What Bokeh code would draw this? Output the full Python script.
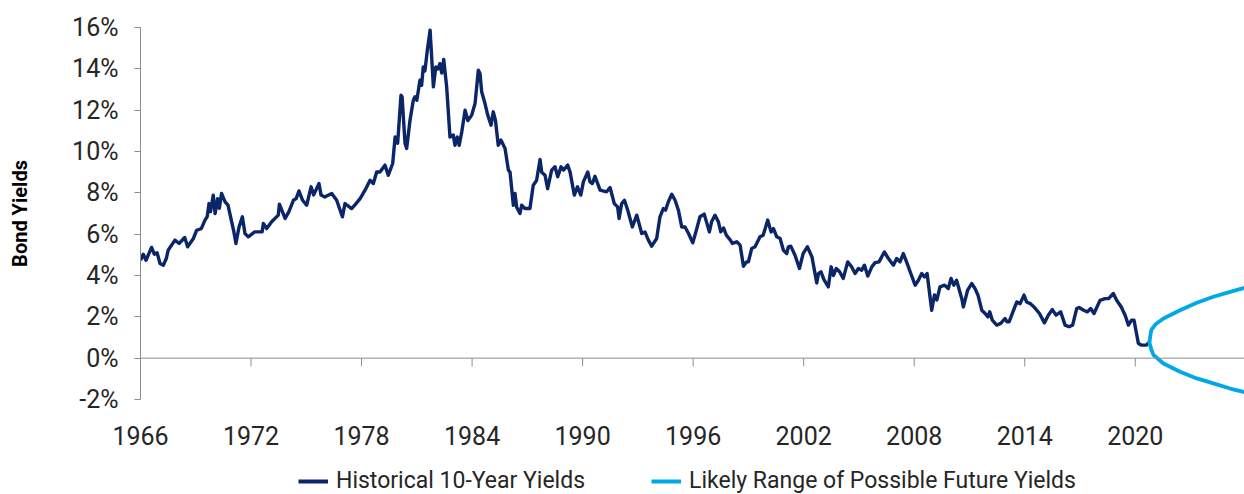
from bokeh.plotting import figure
from bokeh.layouts import column
from bokeh.models import FixedTicker, Span, Legend, LegendItem, Range1d
from bokeh.embed import file_html
from bokeh.resources import INLINE

# ---- data ----
hist_year = [
    1966.00, 1966.15, 1966.30, 1966.60, 1966.75, 1966.90, 1967.06, 1967.24, 1967.40, 1967.50,
    1967.87, 1968.10, 1968.40, 1968.56, 1968.87, 1969.05, 1969.30, 1969.50, 1969.62, 1969.72,
    1969.80, 1969.95, 1970.05, 1970.19, 1970.28, 1970.40, 1970.59, 1970.75, 1970.95, 1971.05,
    1971.18, 1971.35, 1971.53, 1971.67, 1971.85, 1972.20, 1972.60, 1972.67, 1972.85, 1973.12,
    1973.48, 1973.54, 1973.85, 1974.05, 1974.30, 1974.45, 1974.60, 1974.80, 1975.02, 1975.26,
    1975.40, 1975.69, 1975.80, 1976.00, 1976.38, 1976.65, 1976.96, 1977.10, 1977.46, 1977.70,
    1977.92, 1978.19, 1978.46, 1978.64, 1978.82, 1979.00, 1979.27, 1979.45, 1979.69, 1979.82,
    1979.96, 1980.14, 1980.20, 1980.36, 1980.45, 1980.63, 1980.81, 1980.90, 1981.00, 1981.17,
    1981.26, 1981.35, 1981.44, 1981.57, 1981.72, 1981.90, 1982.03, 1982.15, 1982.25, 1982.35,
    1982.46, 1982.62, 1982.80, 1982.98, 1983.07, 1983.20, 1983.30, 1983.44, 1983.62, 1983.77,
    1983.98, 1984.16, 1984.34, 1984.43, 1984.52, 1984.70, 1984.85, 1985.03, 1985.15, 1985.27,
    1985.42, 1985.57, 1985.79, 1985.97, 1986.06, 1986.24, 1986.33, 1986.42, 1986.60, 1986.69,
    1986.87, 1987.14, 1987.32, 1987.50, 1987.69, 1987.78, 1987.96, 1988.10, 1988.32, 1988.50,
    1988.65, 1988.83, 1988.96, 1989.19, 1989.32, 1989.55, 1989.72, 1989.90, 1990.04, 1990.28,
    1990.40, 1990.53, 1990.67, 1990.95, 1991.30, 1991.49, 1991.72, 1991.90, 1991.98, 1992.12,
    1992.27, 1992.45, 1992.70, 1992.94, 1993.21, 1993.39, 1993.57, 1993.75, 1994.02, 1994.20,
    1994.38, 1994.50, 1994.65, 1994.84, 1995.02, 1995.20, 1995.38, 1995.56, 1995.75, 1995.98,
    1996.20, 1996.37, 1996.60, 1996.88, 1997.00, 1997.19, 1997.37, 1997.50, 1997.65, 1997.80,
    1998.00, 1998.13, 1998.37, 1998.55, 1998.73, 1998.90, 1999.00, 1999.18, 1999.36, 1999.63,
    1999.80, 2000.05, 2000.23, 2000.36, 2000.54, 2000.72, 2000.90, 2001.08, 2001.17, 2001.30,
    2001.53, 2001.77, 2001.97, 2002.20, 2002.45, 2002.71, 2002.80, 2002.94, 2003.10, 2003.34,
    2003.49, 2003.62, 2003.77, 2003.95, 2004.15, 2004.39, 2004.60, 2004.79, 2004.97, 2005.15,
    2005.30, 2005.48, 2005.70, 2005.88, 2006.09, 2006.38, 2006.60, 2006.87, 2007.05, 2007.23,
    2007.41, 2007.60, 2007.78, 2008.05, 2008.23, 2008.41, 2008.56, 2008.70, 2008.95, 2009.10,
    2009.23, 2009.40, 2009.65, 2009.85, 2010.00, 2010.15, 2010.30, 2010.58, 2010.67, 2010.90,
    2011.12, 2011.30, 2011.46, 2011.67, 2011.85, 2012.00, 2012.10, 2012.24, 2012.48, 2012.70,
    2012.93, 2013.04, 2013.15, 2013.57, 2013.75, 2013.96, 2014.10, 2014.30, 2014.50, 2014.80,
    2015.07, 2015.28, 2015.50, 2015.70, 2015.95, 2016.19, 2016.40, 2016.60, 2016.82, 2016.95,
    2017.20, 2017.40, 2017.58, 2017.76, 2018.09, 2018.36, 2018.55, 2018.81, 2018.99, 2019.24,
    2019.45, 2019.63, 2019.80, 2019.93, 2020.17, 2020.35, 2020.60, 2020.76,
]
hist_yield = [
    4.74, 5.03, 4.74, 5.36, 5.03, 5.10, 4.58, 4.50, 4.82, 5.22,
    5.71, 5.55, 5.84, 5.39, 5.79, 6.19, 6.27, 6.68, 6.84, 7.48,
    7.09, 7.89, 7.00, 7.72, 7.25, 7.97, 7.56, 7.40, 6.60, 6.20,
    5.55, 6.35, 6.84, 6.03, 5.87, 6.11, 6.11, 6.52, 6.27, 6.60,
    6.92, 7.45, 6.76, 7.08, 7.64, 7.72, 8.09, 7.64, 7.40, 8.29,
    7.90, 8.45, 7.89, 7.80, 7.97, 7.64, 6.84, 7.48, 7.24, 7.48,
    7.72, 8.13, 8.61, 8.45, 9.01, 9.01, 9.34, 8.85, 9.42, 10.70,
    10.40, 12.72, 12.65, 10.39, 10.15, 11.51, 12.48, 12.65, 12.48, 13.45,
    13.20, 14.09, 13.90, 14.90, 15.87, 13.13, 14.09, 14.00, 14.25, 13.80,
    14.45, 13.13, 10.70, 10.80, 10.30, 10.70, 10.30, 10.95, 12.00, 11.50,
    11.76, 12.32, 13.93, 13.77, 12.89, 12.32, 11.76, 11.27, 11.92, 11.50,
    10.30, 10.55, 10.15, 9.10, 9.00, 7.40, 7.97, 7.30, 7.00, 7.40,
    7.24, 7.24, 8.37, 8.60, 9.61, 9.00, 8.85, 8.20, 9.10, 9.26,
    8.78, 9.26, 9.10, 9.34, 9.00, 7.89, 8.29, 7.89, 8.53, 9.01,
    8.53, 8.45, 8.80, 8.13, 8.05, 8.26, 7.48, 7.32, 6.76, 7.48,
    7.64, 7.16, 6.35, 6.92, 6.03, 6.10, 5.71, 5.42, 5.79, 6.84,
    7.24, 7.16, 7.56, 7.93, 7.64, 7.16, 6.35, 6.35, 6.03, 5.58,
    6.27, 6.84, 6.97, 6.11, 6.60, 6.92, 6.60, 6.11, 6.30, 5.95,
    5.74, 5.55, 5.63, 5.47, 4.45, 4.66, 4.66, 5.31, 5.39, 5.87,
    5.95, 6.68, 6.11, 6.27, 5.87, 5.79, 5.22, 5.06, 5.39, 5.42,
    4.98, 4.34, 5.06, 5.39, 4.90, 3.64, 4.09, 4.18, 3.80, 3.45,
    4.42, 4.00, 4.34, 4.18, 3.86, 4.66, 4.42, 4.10, 4.34, 4.26,
    4.50, 3.97, 4.42, 4.62, 4.66, 5.14, 4.82, 4.50, 4.82, 4.66,
    5.06, 4.62, 4.18, 3.53, 3.77, 4.10, 3.93, 4.10, 2.32, 3.06,
    2.82, 3.45, 3.53, 3.37, 3.86, 3.53, 3.77, 2.89, 2.48, 3.29,
    3.61, 3.37, 3.06, 2.32, 2.16, 2.00, 2.24, 1.84, 1.60, 1.68,
    1.92, 1.76, 1.76, 2.72, 2.64, 3.05, 2.72, 2.64, 2.48, 2.16,
    1.71, 2.08, 2.35, 2.08, 2.24, 1.60, 1.52, 1.60, 2.40, 2.45,
    2.32, 2.24, 2.40, 2.16, 2.80, 2.88, 2.88, 3.13, 2.80, 2.48,
    2.08, 1.60, 1.84, 1.84, 0.71, 0.63, 0.63, 0.78,
]

future_year = [2025.87, 2025.15, 2024.24, 2023.34, 2022.43, 2021.53, 2020.99, 2020.88, 2020.77,
               2020.82, 2020.88, 2021.10, 2021.53, 2022.43, 2023.34, 2024.24, 2025.15, 2025.87]
future_yield = [-1.63, -1.47, -1.22, -0.98, -0.66, -0.26, 0.15, 0.40, 0.75,
                1.10, 1.38, 1.64, 1.92, 2.32, 2.68, 2.97, 3.21, 3.39]

x_ticks = [1966, 1972, 1978, 1984, 1990, 1996, 2002, 2008, 2014, 2020]
y_ticks = [-2, 0, 2, 4, 6, 8, 10, 12, 14, 16]
y_tick_labels = ["-2%", "0%", "2%", "4%", "6%", "8%", "10%", "12%", "14%", "16%"]

series_names = ["Historical 10-Year Yields", "Likely Range of Possible Future Yields"]
y_title = "Bond Yields"

# ---- styles ----
NAVY = "#0b2569"
SKY = "#00a8e6"
AXIS_GRAY = "#8c8c8c"
TEXT = "#262626"
FONT = "Roboto"

x_range = Range1d(1966, 2025.93)
p = figure(width=1244, height=451, output_backend="svg", toolbar_location=None,
           x_range=x_range, y_range=Range1d(-2, 16),
           min_border_left=140, min_border_right=0, min_border_top=27, min_border_bottom=52)
p.outline_line_color = None
p.xgrid.grid_line_color = None
p.ygrid.grid_line_color = None
p.background_fill_color = "white"
p.border_fill_color = "white"

# y axis
p.yaxis.ticker = FixedTicker(ticks=y_ticks)
p.yaxis.major_label_overrides = {t: lbl for t, lbl in zip(y_ticks, y_tick_labels)}
p.yaxis.axis_line_color = AXIS_GRAY
p.yaxis.major_tick_line_color = AXIS_GRAY
p.yaxis.major_tick_out = 6
p.yaxis.major_tick_in = 0
p.yaxis.minor_tick_line_color = None
p.yaxis.major_label_standoff = 16
p.yaxis.major_label_text_font = FONT
p.yaxis.major_label_text_font_size = "25px"
p.yaxis.major_label_text_color = TEXT
p.yaxis.axis_label = y_title
p.yaxis.axis_label_text_font = FONT
p.yaxis.axis_label_text_font_style = "bold"
p.yaxis.axis_label_text_font_size = "20px"
p.yaxis.axis_label_text_color = "#000000"
p.yaxis.axis_label_standoff = 37

# x axis: labels at bottom, axis line drawn at 0
p.xaxis.ticker = FixedTicker(ticks=x_ticks)
p.xaxis.axis_line_color = None
p.xaxis.major_tick_line_color = None
p.xaxis.minor_tick_line_color = None
p.xaxis.major_label_standoff = 20
p.xaxis.major_label_text_font = FONT
p.xaxis.major_label_text_font_size = "25px"
p.xaxis.major_label_text_color = TEXT

p.add_layout(Span(location=0, dimension="width", line_color=AXIS_GRAY, line_width=1))
tick_len = 0.4
p.segment(x0=x_ticks, y0=[0] * len(x_ticks), x1=x_ticks, y1=[-tick_len] * len(x_ticks),
          line_color=AXIS_GRAY, line_width=1)

p.line(hist_year, hist_yield, line_color=NAVY, line_width=3.4, line_join="round")
p.line(future_year, future_yield, line_color=SKY, line_width=3.8, line_join="round",
       line_cap="round")

# ---- legend strip below the chart (same series, ranges chosen so only the key shows) ----
lg = figure(width=1244, height=43, output_backend="svg", toolbar_location=None,
            x_range=Range1d(0, 1), y_range=Range1d(100, 101),
            min_border_left=0, min_border_right=0, min_border_top=0, min_border_bottom=0)
lg.axis.visible = False
lg.xgrid.grid_line_color = None
lg.ygrid.grid_line_color = None
lg.outline_line_color = None
k1 = lg.line(hist_year, hist_yield, line_color=NAVY, line_width=4)
k2 = lg.line(future_year, future_yield, line_color=SKY, line_width=4)
legend = Legend(items=[LegendItem(label=series_names[0], renderers=[k1]),
                       LegendItem(label=series_names[1], renderers=[k2])],
                orientation="horizontal", location=(158, 0))
legend.label_text_font = FONT
legend.label_text_font_size = "23px"
legend.label_text_color = TEXT
legend.glyph_width = 30
legend.label_standoff = 8
legend.spacing = 66
legend.border_line_color = None
legend.background_fill_alpha = 0
legend.padding = 0
legend.margin = 0
lg.add_layout(legend)

layout = column(p, lg, spacing=0)
open("out.html", "w").write(file_html(layout, INLINE))
